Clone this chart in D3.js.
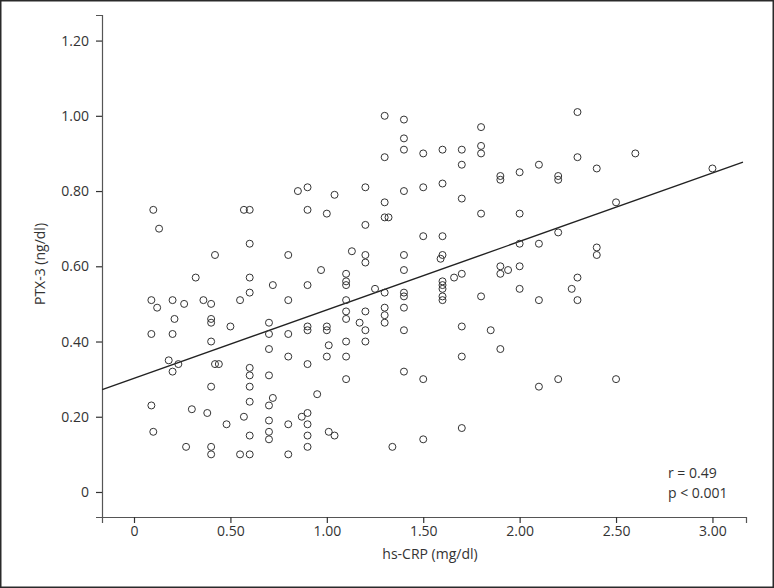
<!DOCTYPE html>
<html>
<head>
<meta charset="utf-8">
<script src="https://cdn.jsdelivr.net/npm/d3@7/dist/d3.min.js"></script>
<style>
  html, body { margin: 0; padding: 0; background: #fff; }
  svg { display: block; }
  text { font-family: "Open Sans", "Noto Sans", sans-serif; fill: #333; }
</style>
</head>
<body>
<svg id="chart" width="774" height="588"></svg>
<script>
// hs-CRP (mg/dl) values
const crpValues = [
  0.10,0.13,0.57,0.60,
  1.30,1.40,1.40,1.40,1.50,1.60,1.30,0.85,0.90,1.04,1.20,1.40,1.50,1.60,0.90,1.00,1.30,1.30,1.32,1.20,1.50,1.60,
  2.30,1.80,1.70,1.80,1.80,1.70,1.90,1.90,2.00,2.10,2.20,2.20,2.30,2.40,1.70,1.80,2.00,2.20,2.50,
  2.60,3.00,
  0.60,0.42,0.32,0.60,0.72,0.09,0.12,0.20,0.26,0.36,0.40,0.55,0.60,0.21,0.40,0.40,0.50,0.09,0.20,0.40,0.70,0.70,0.70,0.18,0.23,0.20,0.42,0.44,0.60,0.60,0.70,
  0.40,0.60,0.60,0.72,0.70,0.09,0.30,0.38,0.57,0.48,0.70,0.70,0.70,0.60,0.10,0.27,0.40,0.40,0.55,0.60,
  0.80,1.13,1.20,1.20,1.40,1.60,1.59,0.97,1.10,1.10,1.10,1.40,0.90,1.25,1.30,1.40,1.40,1.60,1.60,1.60,1.60,1.60,0.80,1.10,0.80,0.90,0.90,1.00,1.00,1.10,1.10,1.20,1.17,1.20,1.30,1.30,1.30,1.40,1.40,1.10,1.20,1.01,0.80,1.00,1.10,0.90,1.40,1.10,1.50,
  0.95,0.80,0.87,0.90,0.90,0.90,0.90,0.80,1.01,1.04,1.34,1.50,
  2.00,2.10,2.40,2.40,1.90,1.90,1.94,2.00,1.66,1.70,1.80,2.00,2.30,2.27,2.10,2.30,1.70,1.85,1.90,1.70,2.20,2.50,
  2.10,1.70
];
// PTX-3 (ng/dl) values
const ptxValues = [
  0.75,0.70,0.75,0.75,
  1.00,0.99,0.94,0.91,0.90,0.91,0.89,0.80,0.81,0.79,0.81,0.80,0.81,0.82,0.75,0.74,0.77,0.73,0.73,0.71,0.68,0.68,
  1.01,0.97,0.91,0.92,0.90,0.87,0.84,0.83,0.85,0.87,0.84,0.83,0.89,0.86,0.78,0.74,0.74,0.69,0.77,
  0.90,0.86,
  0.66,0.63,0.57,0.57,0.55,0.51,0.49,0.51,0.50,0.51,0.50,0.51,0.53,0.46,0.46,0.45,0.44,0.42,0.42,0.40,0.45,0.42,0.38,0.35,0.34,0.32,0.34,0.34,0.33,0.31,0.31,
  0.28,0.28,0.24,0.25,0.23,0.23,0.22,0.21,0.20,0.18,0.19,0.16,0.14,0.15,0.16,0.12,0.12,0.10,0.10,0.10,
  0.63,0.64,0.63,0.61,0.63,0.63,0.62,0.59,0.58,0.56,0.55,0.59,0.55,0.54,0.53,0.53,0.52,0.56,0.55,0.54,0.52,0.51,0.51,0.51,0.42,0.44,0.43,0.44,0.43,0.48,0.46,0.48,0.45,0.43,0.49,0.47,0.45,0.49,0.43,0.40,0.40,0.39,0.36,0.36,0.36,0.34,0.32,0.30,0.30,
  0.26,0.18,0.20,0.21,0.18,0.15,0.12,0.10,0.16,0.15,0.12,0.14,
  0.66,0.66,0.65,0.63,0.60,0.58,0.59,0.60,0.57,0.58,0.52,0.54,0.57,0.54,0.51,0.51,0.44,0.43,0.38,0.36,0.30,0.30,
  0.28,0.17
];
// regression line: intercept, slope
const fitIntercept = [0.302];
const fitSlope = [0.182];
const xTicks = [0, 0.5, 1.0, 1.5, 2.0, 2.5, 3.0];
const xTickLabels = ["0", "0.50", "1.00", "1.50", "2.00", "2.50", "3.00"];
const yTicks = [0, 0.2, 0.4, 0.6, 0.8, 1.0, 1.2];
const yTickLabels = ["0", "0.20", "0.40", "0.60", "0.80", "1.00", "1.20"];
const statLines = ["r = 0.49", "p < 0.001"];
const xTitle = "hs-CRP (mg/dl)";
const yTitle = "PTX-3 (ng/dl)";

const svg = d3.select("#chart");
const W = 774, H = 588;

svg.append("rect").attr("x", 0.75).attr("y", 0.75).attr("width", W - 1.5).attr("height", H - 1.5)
  .attr("fill", "#fff").attr("stroke", "#2a2a2a").attr("stroke-width", 1.5);

const x = d3.scaleLinear().domain([-0.166, 3.174]).range([102, 746]);
const y = d3.scaleLinear().domain([-0.0665, 1.268]).range([517, 15]);

const axisColor = "#555";

const gx = svg.append("g").attr("transform", `translate(0,${y.range()[0]})`)
  .call(d3.axisBottom(x).tickValues(xTicks).tickFormat((d, i) => xTickLabels[i]).tickSizeOuter(0).tickSize(6).tickPadding(3));
const gy = svg.append("g").attr("transform", `translate(${x.range()[0]},0)`)
  .call(d3.axisLeft(y).tickValues(yTicks).tickFormat((d, i) => yTickLabels[i]).tickSizeOuter(0).tickSize(6).tickPadding(7));

[gx, gy].forEach(g => {
  g.select(".domain").attr("stroke", axisColor).attr("stroke-width", 1.2);
  g.selectAll(".tick line").attr("stroke", "#333").attr("stroke-width", 1.2);
  g.selectAll(".tick text").attr("font-size", 14).attr("fill", "#333")
    .attr("font-family", "'Open Sans', 'Noto Sans', sans-serif");
});

// regression line
const x0 = x.domain()[0] + 0.001, x1 = x.invert(743);
svg.append("line")
  .attr("x1", x(x0)).attr("y1", y(fitIntercept[0] + fitSlope[0] * x0))
  .attr("x2", x(x1)).attr("y2", y(fitIntercept[0] + fitSlope[0] * x1))
  .attr("stroke", "#222").attr("stroke-width", 1.4);

// points
const pts = crpValues.map((c, i) => ({ c, p: ptxValues[i] }));
svg.append("g").selectAll("circle").data(pts).enter().append("circle")
  .attr("cx", d => x(d.c)).attr("cy", d => y(d.p)).attr("r", 3.5)
  .attr("fill", "none").attr("stroke", "#333").attr("stroke-width", 1);

// titles
svg.append("text").attr("x", 430).attr("y", 559).attr("text-anchor", "middle")
  .attr("font-size", 14).text(xTitle);
svg.append("text").attr("transform", "translate(45,264) rotate(-90)").attr("text-anchor", "middle")
  .attr("font-size", 14).text(yTitle);

// stats
svg.append("g").selectAll("text").data(statLines).enter().append("text")
  .attr("x", 668).attr("y", (d, i) => 478 + i * 20).attr("font-size", 14).text(d => d);
</script>
</body>
</html>
